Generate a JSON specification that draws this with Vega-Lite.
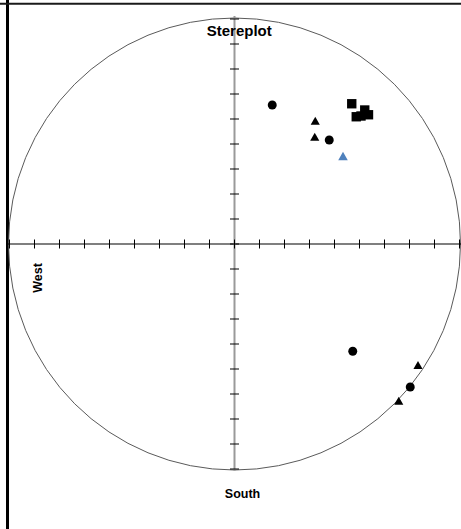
{
  "$schema": "https://vega.github.io/schema/vega-lite/v6.json",
  "width": 461,
  "height": 529,
  "autosize": "none",
  "padding": 0,
  "background": "white",
  "config": {"view": {"stroke": null}, "font": "Liberation Sans"},
  "datasets": {
    "one": [{}],
    "ticks": [
      {"v": -90}, {"v": -80}, {"v": -70}, {"v": -60}, {"v": -50}, {"v": -40}, {"v": -30}, {"v": -20}, {"v": -10}, {"v": 0},
      {"v": 10}, {"v": 20}, {"v": 30}, {"v": 40}, {"v": 50}, {"v": 60}, {"v": 70}, {"v": 80}, {"v": 90}
    ],
    "points": [
      {"series": "S1", "x": 15.1, "y": 55.6},
      {"series": "S1", "x": 37.9, "y": 41.6},
      {"series": "S1", "x": 47.3, "y": -42.9},
      {"series": "S1", "x": 70.3, "y": -57.2},
      {"series": "S2", "x": 32.3, "y": 49.3},
      {"series": "S2", "x": 32.1, "y": 42.9},
      {"series": "S2", "x": 73.4, "y": -48.4},
      {"series": "S2", "x": 65.7, "y": -62.7},
      {"series": "S3", "x": 46.9, "y": 56.1},
      {"series": "S3", "x": 48.7, "y": 50.9},
      {"series": "S3", "x": 50.6, "y": 51.2},
      {"series": "S3", "x": 52.1, "y": 53.6},
      {"series": "S3", "x": 53.6, "y": 51.7},
      {"series": "S4", "x": 43.4, "y": 35.2}
    ]
  },
  "encoding": {
    "x": {"type": "quantitative", "scale": {"domain": [-93.8, 90.6], "nice": false, "zero": false}, "axis": null},
    "y": {"type": "quantitative", "scale": {"domain": [-114, 97.6], "nice": false, "zero": false}, "axis": null}
  },
  "layer": [
    {
      "data": {"name": "one"},
      "mark": {"type": "rule", "stroke": "#000000", "strokeWidth": 3},
      "encoding": {"x": {"datum": -90.8, "type": "quantitative"}}
    },
    {
      "data": {"name": "one"},
      "mark": {"type": "rule", "stroke": "#1a1a1a", "strokeWidth": 2},
      "encoding": {"y": {"datum": 96.1, "type": "quantitative"}}
    },
    {
      "data": {"name": "one"},
      "mark": {"type": "point", "shape": "circle", "filled": false, "stroke": "#5a5a5a", "strokeWidth": 1, "size": 204304, "opacity": 1},
      "encoding": {"x": {"datum": 0, "type": "quantitative"}, "y": {"datum": 0, "type": "quantitative"}}
    },
    {
      "data": {"name": "one"},
      "mark": {"type": "rule", "stroke": "#000000", "strokeWidth": 1.2},
      "encoding": {
        "y": {"datum": 0, "type": "quantitative"},
        "x": {"datum": -91, "type": "quantitative"},
        "x2": {"datum": 90.6}
      }
    },
    {
      "data": {"name": "one"},
      "mark": {"type": "rule", "stroke": "#9a9a9a", "strokeWidth": 2},
      "encoding": {
        "x": {"datum": 0, "type": "quantitative"},
        "y": {"datum": -90.7, "type": "quantitative"},
        "y2": {"datum": 91.2}
      }
    },
    {
      "data": {"name": "ticks"},
      "mark": {"type": "tick", "orient": "vertical", "size": 9, "thickness": 1, "color": "#000000", "opacity": 1},
      "encoding": {
        "x": {"field": "v", "type": "quantitative"},
        "y": {"datum": 0, "type": "quantitative"}
      }
    },
    {
      "data": {"name": "ticks"},
      "mark": {"type": "tick", "orient": "horizontal", "size": 9, "thickness": 1, "color": "#000000", "opacity": 1},
      "encoding": {
        "y": {"field": "v", "type": "quantitative"},
        "x": {"datum": 0, "type": "quantitative"}
      }
    },
    {
      "data": {"name": "points"},
      "mark": {"type": "point", "filled": true, "opacity": 1, "strokeWidth": 0},
      "encoding": {
        "x": {"field": "x", "type": "quantitative"},
        "y": {"field": "y", "type": "quantitative"},
        "shape": {"field": "series", "type": "nominal", "scale": {"domain": ["S1", "S2", "S3", "S4"], "range": ["circle", "triangle-up", "square", "triangle-up"]}, "legend": null},
        "color": {"field": "series", "type": "nominal", "scale": {"domain": ["S1", "S2", "S3", "S4"], "range": ["#000000", "#000000", "#000000", "#4f81bd"]}, "legend": null},
        "size": {"field": "series", "type": "nominal", "scale": {"domain": ["S1", "S2", "S3", "S4"], "range": [80, 92, 72, 92]}, "legend": null}
      }
    },
    {
      "data": {"name": "one"},
      "mark": {"type": "text", "fontWeight": "bold", "fontSize": 15, "align": "center", "baseline": "alphabetic", "color": "#000000", "text": "Stereplot"},
      "encoding": {
        "x": {"datum": 1.9, "type": "quantitative"},
        "y": {"datum": 83.4, "type": "quantitative"}
      }
    },
    {
      "data": {"name": "one"},
      "mark": {"type": "text", "fontWeight": "bold", "fontSize": 12.5, "align": "center", "baseline": "alphabetic", "color": "#000000", "text": "South"},
      "encoding": {
        "x": {"datum": 3.2, "type": "quantitative"},
        "y": {"datum": -101.7, "type": "quantitative"}
      }
    },
    {
      "data": {"name": "one"},
      "mark": {"type": "text", "fontWeight": "bold", "fontSize": 12.5, "align": "center", "baseline": "middle", "angle": 270, "color": "#000000", "text": "West"},
      "encoding": {
        "x": {"datum": -78.6, "type": "quantitative"},
        "y": {"datum": -13.6, "type": "quantitative"}
      }
    }
  ]
}
